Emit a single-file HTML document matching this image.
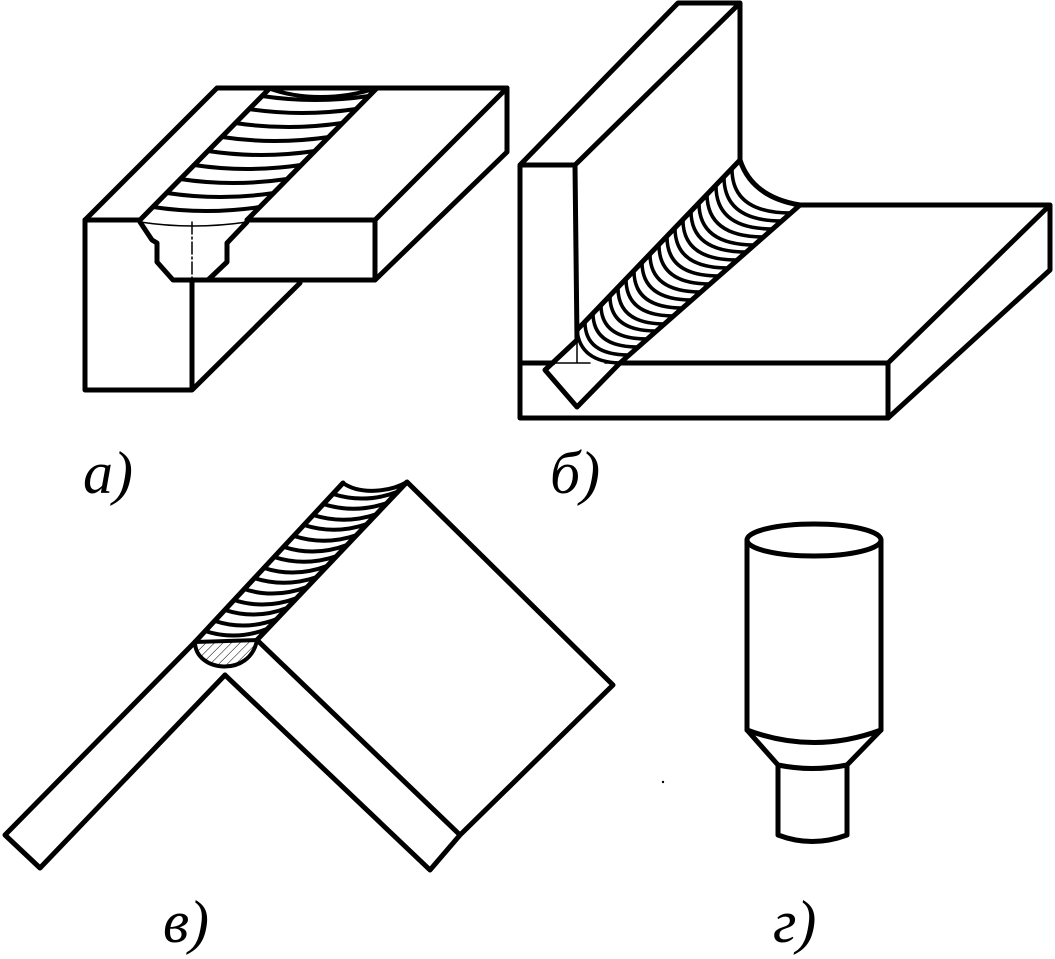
<!DOCTYPE html>
<html><head><meta charset="utf-8"><style>
html,body{margin:0;padding:0;background:#fff}
svg{display:block}
text{font-family:"Liberation Serif",serif;font-style:italic;font-size:60px;fill:#000}
</style></head><body>
<svg width="1055" height="959" viewBox="0 0 1055 959" xmlns="http://www.w3.org/2000/svg">
<defs>
<pattern id="h" width="6" height="6" patternUnits="userSpaceOnUse" patternTransform="rotate(45)">
<line x1="0" y1="0" x2="0" y2="6" stroke="#000" stroke-width="1"/></pattern>
</defs>
<g fill="none" stroke="#000" stroke-width="5" stroke-linejoin="round" stroke-linecap="round">
<!-- a -->
<path d="M85,220 L217,88 L507,88 L507,152 L375,280 L208,280"/>
<path d="M85,220 L140,220 M247,220 L375,220 L375,280 M375,220 L507,88"/>
<path d="M85,220 L85,390 L192,390 L192,280 M192,390 L300,283"/>
<path d="M140,220 L270,88 M247,220 L377,88"/>
<path d="M140,222 L152,240 L157,243 L157,262 L173,280 L208,280 L227,262 L227,243 L247,222"/>
<path d="M268,88 C300,100 340,100 377,88" stroke-width="4"/>
<g stroke-width="4">
<path d="M153,207 Q206,215 260,207"/><path d="M167,193 Q220,201 274,193"/>
<path d="M180,179 Q233,187 287,179"/><path d="M194,165 Q247,173 301,165"/>
<path d="M208,151 Q261,159 315,151"/><path d="M222,137 Q275,145 329,137"/>
<path d="M235,123 Q289,131 342,123"/><path d="M249,109 Q302,117 356,109"/>
<path d="M262,96 Q315,104 369,96"/>
</g>
<path d="M140,222 Q193,230 247,222" stroke-width="1.5"/>
<path d="M192,222 L192,280" stroke-width="1.5" stroke-dasharray="12,3,2,3"/>
<!-- b -->
<path d="M520,165 L678,3 L740,3 L740,160 M575,165 L740,3 M520,165 L575,165 L577,340 L545,370 L577,407 L620,363 L888,363 L888,418 L520,418 Z"/>
<path d="M520,363 L553,363 M888,363 L1050,205 L1050,270 L888,418 M800,205 L1050,205"/>
<path d="M577,330 L740,160 M620,363 L800,205"/>
<path d="M740,160 Q752,197 800,205"/>
<g stroke-width="3.5">
<path d="M585,322 Q585,355 629,355"/><path d="M593,313 Q593,347 638,347"/>
<path d="M601,305 Q601,339 647,339"/><path d="M610,296 Q610,331 656,331"/>
<path d="M618,288 Q618,324 665,324"/><path d="M626,279 Q626,316 674,316"/>
<path d="M634,271 Q634,308 683,308"/><path d="M642,262 Q642,300 692,300"/>
<path d="M650,254 Q650,292 701,292"/><path d="M659,245 Q659,284 710,284"/>
<path d="M667,237 Q667,276 719,276"/><path d="M675,228 Q675,268 728,268"/>
<path d="M683,220 Q683,260 737,260"/><path d="M691,211 Q691,252 746,252"/>
<path d="M699,203 Q699,245 755,245"/><path d="M707,194 Q707,237 764,237"/>
<path d="M716,186 Q716,229 773,229"/><path d="M724,177 Q724,221 782,221"/>
<path d="M732,169 Q732,213 791,213"/><path d="M577,330 Q580,362 620,363"/>
</g>
<path d="M577,340 L577,363 M553,363 L590,363 M605,363 L620,363" stroke-width="1.5"/>
<!-- v -->
<path d="M195,642 L5,835 L40,868 L225,675"/>
<path d="M195,642 L343,483 M257,640 L407,482 L613,685 L460,835 L430,870 L225,675 M257,640 L460,835"/>
<path d="M343,483 C360,495 390,492 407,482" stroke-width="4"/>
<path d="M195,642 C195,672 250,678 257,640 Z" fill="url(#h)" stroke-width="4"/>
<g stroke-width="4">
<path d="M205,631 Q236,641 267,629"/><path d="M215,621 Q246,631 277,619"/>
<path d="M225,610 Q256,620 287,608"/><path d="M234,600 Q265,610 297,598"/>
<path d="M244,589 Q275,599 307,587"/><path d="M254,578 Q285,588 317,577"/>
<path d="M264,568 Q295,578 327,566"/><path d="M274,557 Q305,567 337,556"/>
<path d="M284,547 Q315,557 347,545"/><path d="M294,536 Q325,546 357,535"/>
<path d="M304,525 Q335,535 367,524"/><path d="M313,515 Q345,525 377,514"/>
<path d="M323,504 Q355,514 387,503"/><path d="M333,494 Q365,504 397,492"/>
</g>
<!-- g -->
<ellipse cx="814" cy="540" rx="67" ry="16"/>
<path d="M747,540 L747,730 M881,540 L881,730"/>
<path d="M747,730 Q814,755 881,730"/>
<path d="M747,730 L778,765 M881,730 L847,765 M778,765 Q812,772 847,765"/>
<path d="M778,765 L778,835 Q812,848 847,835 L847,765"/>
</g>
<circle cx="663" cy="782" r="1.2" fill="#000"/>
<text x="83" y="493">а)</text>
<text x="550" y="493">б)</text>
<text x="163" y="942">в)</text>
<text x="773" y="942">г)</text>
</svg>
</body></html>
